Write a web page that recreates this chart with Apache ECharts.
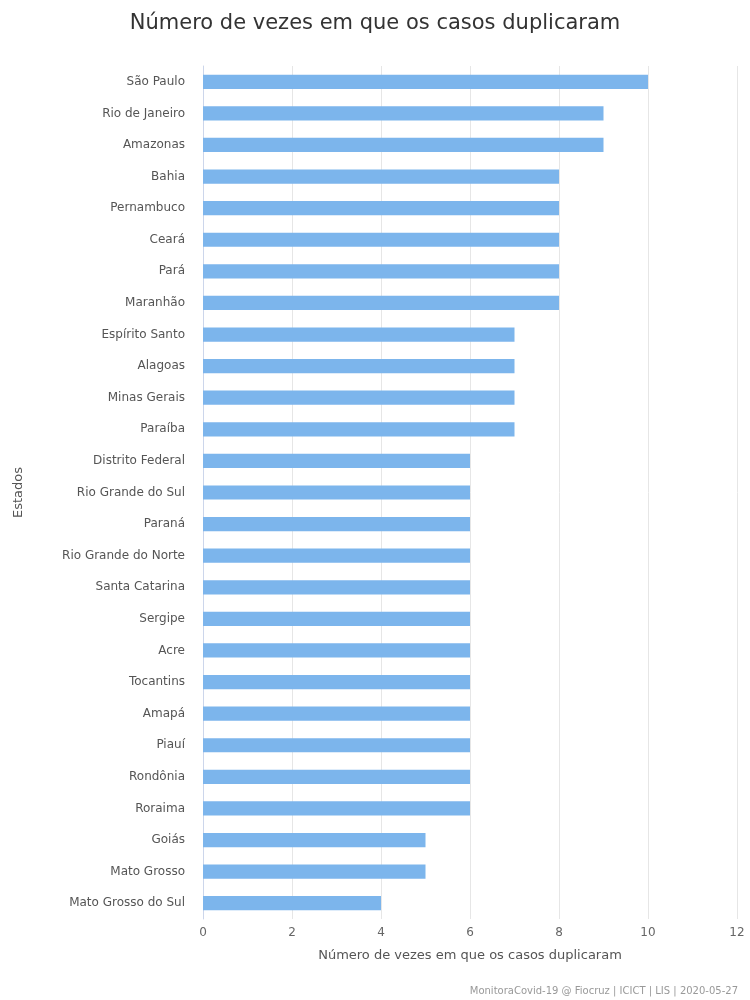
<!DOCTYPE html>
<html>
<head>
<meta charset="utf-8">
<script src="https://cdn.jsdelivr.net/npm/echarts@6/dist/echarts.min.js"></script>
<style>html,body{margin:0;padding:0;background:#fff}#chart{width:750px;height:1000px}</style>
</head>
<body>
<div id="chart"></div>
<script>
var estados = ["São Paulo", "Rio de Janeiro", "Amazonas", "Bahia", "Pernambuco", "Ceará", "Pará", "Maranhão",
    "Espírito Santo", "Alagoas", "Minas Gerais", "Paraíba", "Distrito Federal", "Rio Grande do Sul", "Paraná",
    "Rio Grande do Norte", "Santa Catarina", "Sergipe", "Acre", "Tocantins", "Amapá", "Piauí", "Rondônia",
    "Roraima", "Goiás", "Mato Grosso", "Mato Grosso do Sul"];
var duplicacoes = [10, 9, 9, 8, 8, 8, 8, 8, 7, 7, 7, 7, 6, 6, 6, 6, 6, 6, 6, 6, 6, 6, 6, 6, 5, 5, 4];

var myChart = echarts.init(document.getElementById("chart"));
var fonte = "DejaVu Sans";
var option = {
    backgroundColor: "#fff",
    textStyle: { fontFamily: fonte },
    title: {
        text: "Número de vezes em que os casos duplicaram",
        left: "center",
        top: 8,
        textStyle: { fontFamily: fonte, fontSize: 21, fontWeight: "normal", color: "#333" }
    },
    graphic: [{
        type: "text",
        right: 12,
        bottom: 4,
        style: { text: "MonitoraCovid-19 @ Fiocruz | ICICT | LIS | 2020-05-27", fill: "#999", fontSize: 10, fontFamily: fonte }
    }],
    grid: { left: 203, right: 13, top: 66, bottom: 81 },
    xAxis: {
        type: "value",
        min: 0,
        max: 12,
        interval: 2,
        name: "Número de vezes em que os casos duplicaram",
        nameLocation: "middle",
        nameGap: 30,
        nameTextStyle: { fontSize: 13, color: "#555" },
        axisLabel: { fontSize: 12, color: "#666" },
        axisLine: { show: false },
        splitLine: { lineStyle: { color: "#e6e6e6" } }
    },
    yAxis: {
        type: "category",
        data: estados,
        inverse: true,
        name: "Estados",
        nameLocation: "middle",
        nameRotate: 90,
        nameGap: 178,
        nameTextStyle: { fontSize: 13, color: "#555" },
        axisLabel: { fontSize: 12, color: "#555", margin: 18 },
        axisTick: { show: false },
        axisLine: { lineStyle: { color: "#ccd6eb" } }
    },
    series: [{
        type: "bar",
        data: duplicacoes,
        barWidth: "45%",
        itemStyle: { color: "#7cb5ec" }
    }]
};
myChart.setOption(option);
</script>
</body>
</html>
